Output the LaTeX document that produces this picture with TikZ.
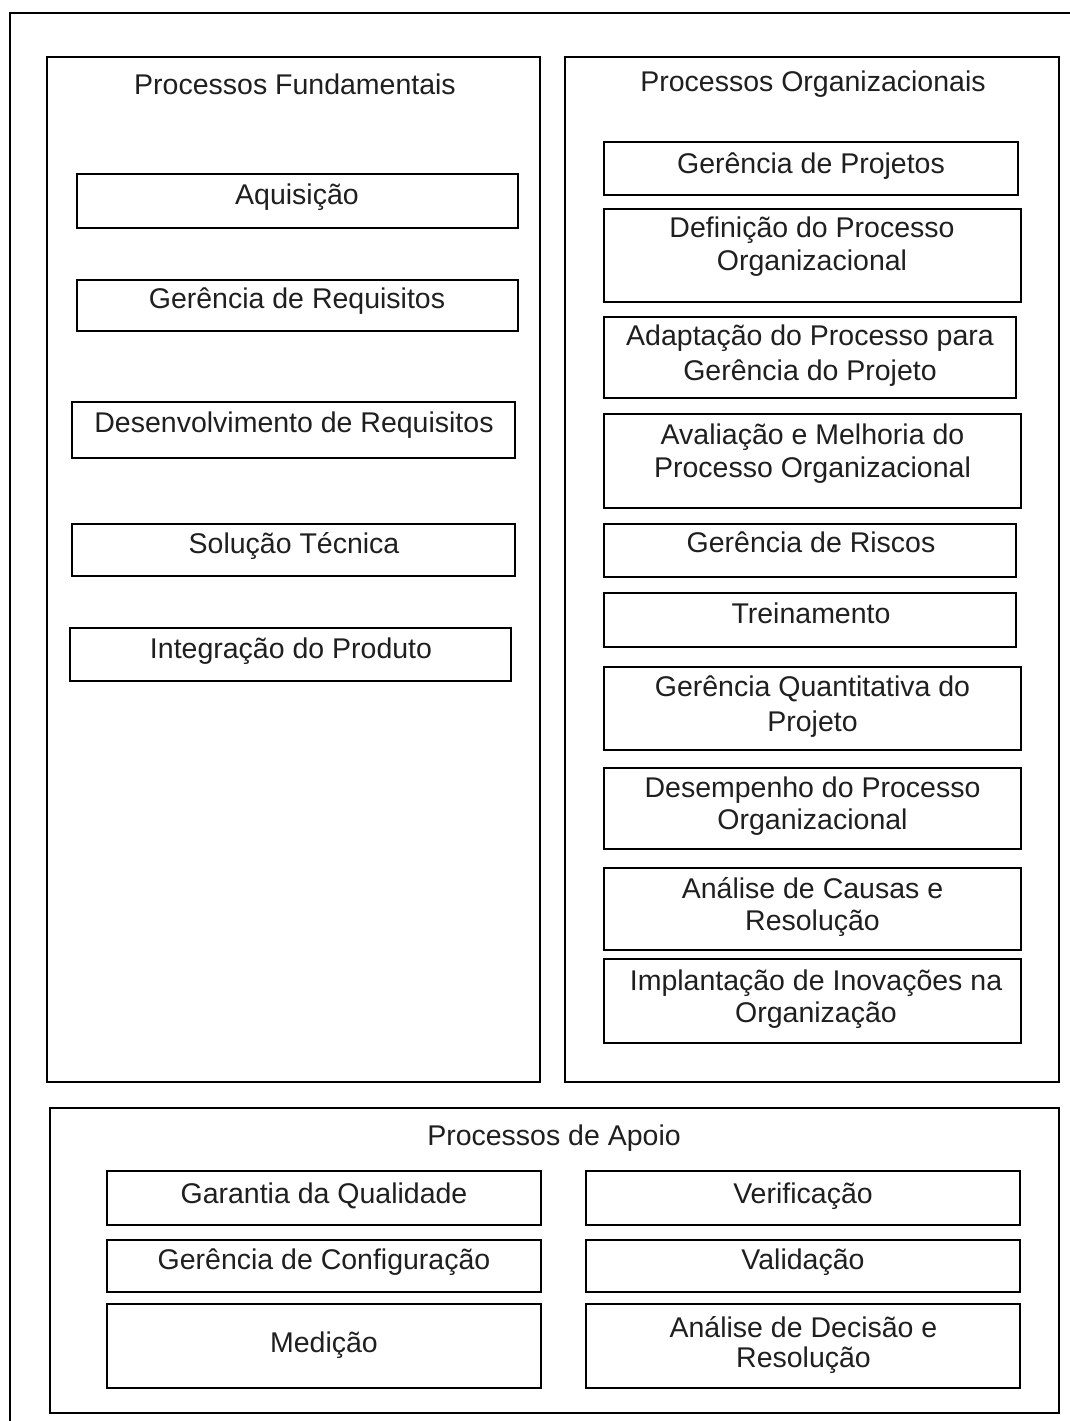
\documentclass[tikz,border=0pt]{standalone}
\usepackage{fontspec}
\setmainfont{Liberation Sans}
\newcommand{\twoline}[3]{\vtop{\baselineskip=#3pt\lineskiplimit=-20pt\halign{\hfil##\hfil\cr #1\cr #2\cr}}}
\newcommand{\procbox}[5]{\node[boxst, minimum width={#4-#2}, minimum height={#5-#3}] (#1) at ({(#2+#4)/2},{(#3+#5)/2}) {};}
\tikzset{
  boxst/.style={draw=black, line width=2pt, inner sep=0pt, outer sep=0pt},
  lbl/.style={inner sep=0pt, outer sep=0pt, anchor=base, text=black!88, font=\fontsize{28.5}{33}\selectfont},
  frame/.style={draw=black, line width=2pt}
}
\begin{document}
\begin{tikzpicture}[x=1pt,y=-1pt]
\fill[white] (0,0) rectangle (1070,1421);
\useasboundingbox (0,0) rectangle (1070,1421);
% outer frame (open at right and bottom)
\draw[frame] (10,1421) -- (10,13) -- (1070,13);

% group boxes
\procbox{fund}{47}{57}{540}{1082}
\procbox{org}{565}{57}{1059}{1082}
\procbox{apoio}{50}{1108}{1059}{1413}

\node[lbl] (tfund) at (295,95) {Processos Fundamentais};
\node[lbl] (torg) at (813,92) {Processos Organizacionais};
\node[lbl] (tapoio) at (554,1145) {Processos de Apoio};

% fundamentais
\procbox{aq}{77}{174}{518}{228}
\procbox{gr}{77}{280}{518}{331}
\procbox{dr}{72}{402}{515}{458}
\procbox{st}{72}{524}{515}{576}
\procbox{ip}{70}{628}{511}{681}
\node[lbl] (taq) at (297,204) {Aquisição};
\node[lbl] (tgr) at (297,308) {Gerência de Requisitos};
\node[lbl] (tdr) at (294,432) {Desenvolvimento de Requisitos};
\node[lbl] (tst) at (294,553) {Solução Técnica};
\node[lbl] (tip) at (291,658) {Integração do Produto};

% organizacionais
\procbox{gp}{604}{142}{1018}{195}
\procbox{dp}{604}{209}{1021}{302}
\procbox{ap}{604}{317}{1016}{398}
\procbox{am}{604}{414}{1021}{508}
\procbox{gri}{604}{524}{1016}{577}
\procbox{tr}{604}{593}{1016}{647}
\procbox{gq}{604}{667}{1021}{750}
\procbox{de}{604}{768}{1021}{849}
\procbox{ac}{604}{868}{1021}{950}
\procbox{ii}{604}{959}{1021}{1043}
\node[lbl] (tgp) at (811,173) {Gerência de Projetos};
\node[lbl] (tdp) at (812,237) {\twoline{Definição do Processo}{Organizacional}{33}};
\node[lbl] (tap) at (810,345.5) {\twoline{Adaptação do Processo para}{Gerência do Projeto}{34.5}};
\node[lbl] (tam) at (812.5,444) {\twoline{Avaliação e Melhoria do}{Processo Organizacional}{33}};
\node[lbl] (tgri) at (811,552) {Gerência de Riscos};
\node[lbl] (ttr) at (811,623) {Treinamento};
\node[lbl] (tgq) at (812.5,696) {\twoline{Gerência Quantitativa do}{Projeto}{35}};
\node[lbl] (tde) at (812.5,797) {\twoline{Desempenho do Processo}{Organizacional}{32}};
\node[lbl] (tac) at (812.5,898) {\twoline{Análise de Causas e}{Resolução}{32}};
\node[lbl] (tii) at (816,990) {\twoline{Implantação de Inovações na}{Organização}{32}};

% apoio
\procbox{ga}{107}{1171}{541}{1225}
\procbox{ve}{586}{1171}{1020}{1225}
\procbox{gc}{107}{1240}{541}{1292}
\procbox{va}{586}{1240}{1020}{1292}
\procbox{me}{107}{1304}{541}{1388}
\procbox{ad}{586}{1304}{1020}{1388}
\node[lbl] (tga) at (324,1203) {Garantia da Qualidade};
\node[lbl] (tve) at (803,1203) {Verificação};
\node[lbl] (tgc) at (324,1269) {Gerência de Configuração};
\node[lbl] (tva) at (803,1269) {Validação};
\node[lbl] (tme) at (324,1352) {Medição};
\node[lbl] (tad) at (803.5,1337) {\twoline{Análise de Decisão e}{Resolução}{30}};
\end{tikzpicture}
\end{document}
